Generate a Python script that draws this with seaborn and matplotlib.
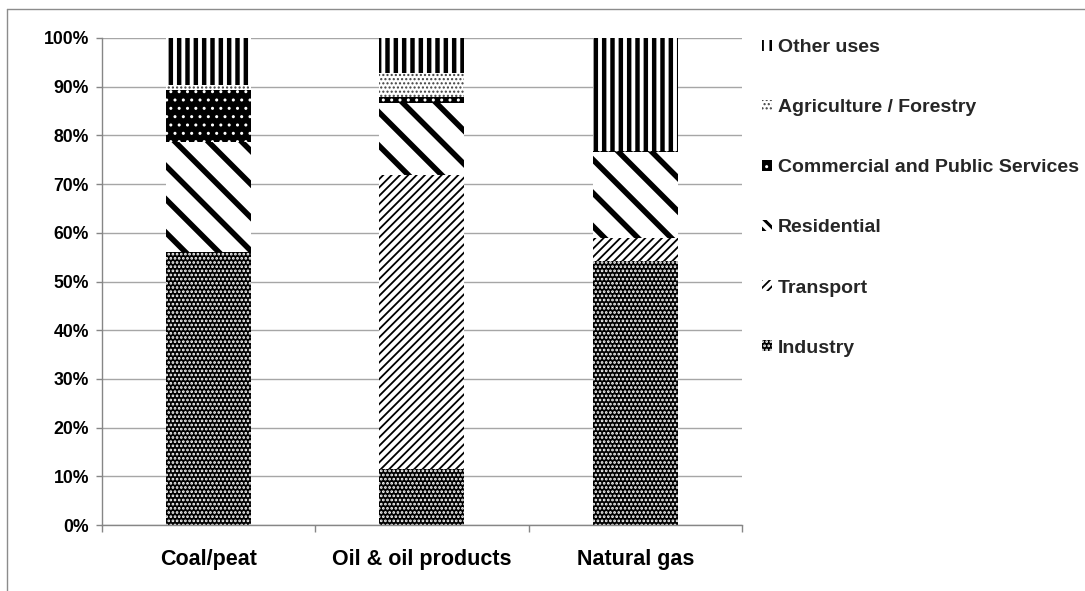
import matplotlib
matplotlib.use("Agg")
import matplotlib.pyplot as plt
import matplotlib.patches as mpatches
from matplotlib.lines import Line2D
from matplotlib.ticker import FixedLocator, FuncFormatter
import seaborn as sns
import numpy as np
import pandas as pd

# ---------------- data ----------------
categories = ["Coal/peat", "Oil & oil products", "Natural gas"]
sectors = ["Industry", "Transport", "Residential",
           "Commercial and Public Services", "Agriculture / Forestry", "Other uses"]
industry = [56.1, 11.5, 54.2]
transport = [0.0, 60.4, 4.7]
residential = [22.5, 14.7, 17.7]
commercial = [10.7, 1.3, 0.1]
agriculture = [1.0, 5.0, 0.1]
other_uses = [9.7, 7.1, 23.2]
ytick_values = list(range(0, 101, 10))

df = pd.DataFrame({
    "category": categories,
    "Industry": industry,
    "Transport": transport,
    "Residential": residential,
    "Commercial and Public Services": commercial,
    "Agriculture / Forestry": agriculture,
    "Other uses": other_uses,
})
cum = df[sectors].cumsum(axis=1)
cum["category"] = df["category"]

# ---------------- styles ----------------
styles = {
    "Industry": dict(face="black", hc="white", hatch="....", hlw=1.3, lhatch="....", llw=1.3),
    "Transport": dict(face="white", hc="black", hatch="////", hlw=1.3, lhatch="////", llw=1.3),
    "Residential": dict(face="white", hc="black", hatch="\\", hlw=4.0, lhatch="\\\\\\", llw=2.2),
    "Commercial and Public Services": dict(face="black", hc="white", hatch="..", hlw=1.0, lhatch="..", llw=1.0),
    "Agriculture / Forestry": dict(face="white", hc="#404040", hatch="....", hlw=1.0, lhatch="....", llw=1.0),
    "Other uses": dict(face="white", hc="black", hatch="||", hlw=3.2, lhatch="||", llw=2.0),
}

sns.set_theme(style="white")
plt.rcParams['font.family'] = ['Liberation Sans', 'DejaVu Sans']
plt.rcParams['font.weight'] = 'bold'


def style_patch(p, st):
    p.set_facecolor(st["face"])
    p.set_edgecolor(st["hc"])
    p.set_hatch(st["hatch"])
    p.set_linewidth(0)
    if hasattr(p, "set_hatch_linewidth"):
        p.set_hatch_linewidth(st["hlw"])


W, H = 1085, 591
fig = plt.figure(figsize=(W / 100, H / 100), dpi=100)
ax = fig.add_axes([101.5 / W, 1 - 525 / H, (742 - 101.5) / W, (525 - 38) / H])
ax.set_axisbelow(True)

# draw cumulative layers from top to bottom so lower layers overlay
for s in reversed(sectors):
    st = styles[s]
    n0 = len(ax.patches)
    with plt.rc_context({"hatch.linewidth": st["hlw"]}):
        sns.barplot(data=cum, x="category", y=s, order=categories, ax=ax,
                    color=st["face"], saturation=1, width=0.4, linewidth=0,
                    errorbar=None)
        for p in ax.patches[n0:]:
            style_patch(p, st)

# ---------------- axes ----------------
ax.set_ylim(0, 100)
ax.set_xlim(-0.5, 2.5)
ax.set_xlabel("")
ax.set_ylabel("")
ax.yaxis.set_major_locator(FixedLocator(ytick_values))
ax.yaxis.set_major_formatter(FuncFormatter(lambda v, pos: f"{int(round(v))}%"))
ax.grid(axis="y", color="#a6a6a6", linewidth=1.0)
ax.grid(axis="x", visible=False)

for side in ["top", "right"]:
    ax.spines[side].set_visible(False)
for side in ["left", "bottom"]:
    ax.spines[side].set_color("#868686")
    ax.spines[side].set_linewidth(1.0)

ax.tick_params(axis="y", direction="out", length=4, width=1, color="#868686",
               pad=5, labelsize=12.7, left=True)
ax.set_xticks(range(len(categories)))
ax.set_xticklabels(categories)
ax.tick_params(axis="x", which="major", length=0, pad=17, labelsize=15.5)
ax.set_xticks([-0.5, 0.5, 1.5, 2.5], minor=True)
ax.tick_params(axis="x", which="minor", direction="out", length=5, width=1,
               color="#868686", bottom=True)
for lab in ax.get_xticklabels() + ax.get_yticklabels():
    lab.set_fontweight("bold")
    lab.set_color("black")

# ---------------- legend ----------------
handles = []
for s in reversed(sectors):
    st = styles[s]
    with plt.rc_context({"hatch.linewidth": st["llw"]}):
        h = mpatches.Patch(facecolor=st["face"], edgecolor=st["hc"],
                           hatch=st["lhatch"], linewidth=0)
    handles.append(h)
leg = fig.legend(handles, list(reversed(sectors)), loc="upper left",
                 bbox_to_anchor=(762 / W, 1 - 39 / H), frameon=False,
                 borderaxespad=0, borderpad=0,
                 handlelength=0.5, handleheight=0.5, handletextpad=0.3,
                 labelspacing=2.22, prop={"weight": "bold", "size": 14.0})
for lp, s in zip(leg.get_patches(), reversed(sectors)):
    st = styles[s]
    lp.set_linewidth(0)
    lp.set_hatch(st["lhatch"])
    if hasattr(lp, "set_hatch_linewidth"):
        lp.set_hatch_linewidth(st["llw"])

# outer chart border
fig.add_artist(Line2D([7 / W, 7 / W], [0, 1 - 9 / H], transform=fig.transFigure,
                      color="#8c8c8c", linewidth=1.0))
fig.add_artist(Line2D([7 / W, 1.0], [1 - 9 / H, 1 - 9 / H], transform=fig.transFigure,
                      color="#8c8c8c", linewidth=1.0))

fig.savefig("out.png", dpi=100)
